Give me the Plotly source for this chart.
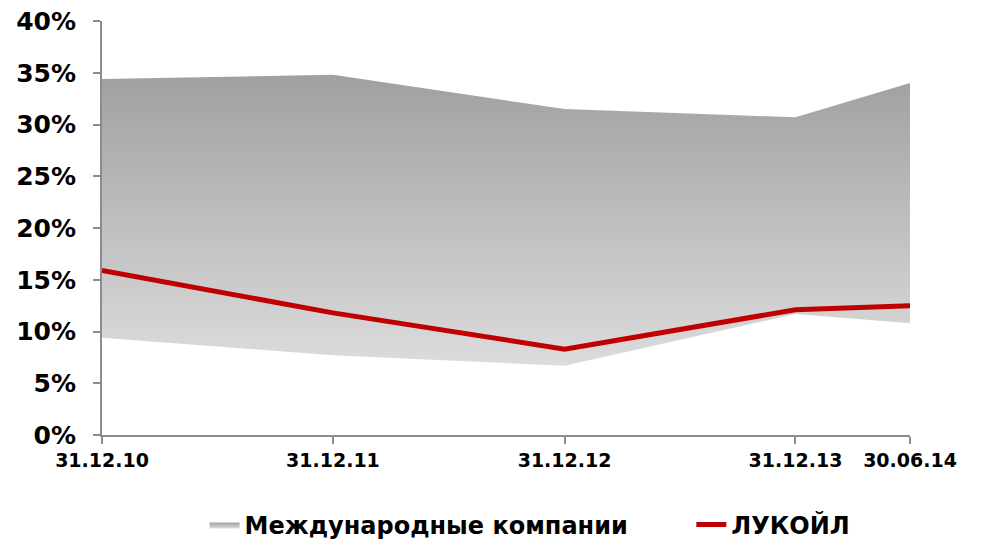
import plotly.graph_objects as go

dates = ["2010-12-31", "2011-12-31", "2012-12-31", "2013-12-31", "2014-06-30"]
tick_labels = ["31.12.10", "31.12.11", "31.12.12", "31.12.13", "30.06.14"]
intl_high = [0.344, 0.348, 0.315, 0.307, 0.340]
intl_low = [0.094, 0.077, 0.067, 0.117, 0.108]
lukoil = [0.159, 0.118, 0.083, 0.121, 0.125]

FONT = "DejaVu Sans"
PAD = "\u00a0" * 7

fig = go.Figure()
fig.add_trace(go.Scatter(x=dates, y=intl_low, mode="lines", line=dict(width=0),
                         showlegend=False, hoverinfo="skip"))
fig.add_trace(go.Scatter(x=dates, y=intl_high, mode="lines", line=dict(width=0),
                         fill="tonexty", name="Международные компании" + PAD,
                         fillgradient=dict(type="vertical",
                                           colorscale=[[0, "#dcdcdc"], [1, "#a0a0a0"]]),
                         fillcolor="#bdbdbd"))
fig.add_trace(go.Scatter(x=dates, y=lukoil, mode="lines", name="ЛУКОЙЛ",
                         line=dict(color="#c00000", width=5)))

fig.update_layout(
    width=982, height=540,
    margin=dict(l=94, r=80, t=13, b=113, autoexpand=False),
    paper_bgcolor="white", plot_bgcolor="white",
    font=dict(family=FONT, color="black"),
    legend=dict(orientation="h", x=0.127, xanchor="left", y=-0.217, yanchor="middle",
                font=dict(size=24, weight="bold", family=FONT), traceorder="normal",
                itemwidth=30),
    showlegend=True,
)
fig.update_xaxes(type="date", range=[dates[0], dates[-1]], tickvals=dates, ticktext=tick_labels,
                 showgrid=False, showline=True, linecolor="#8c8c8c", linewidth=2,
                 ticks="outside", ticklen=7, tickcolor="#8c8c8c", tickwidth=2,
                 tickfont=dict(size=19, weight="bold", family=FONT), zeroline=False,
                 automargin=False, ticklabeloverflow="allow")
fig.update_yaxes(range=[0, 0.4], tickvals=[i * 0.05 for i in range(9)],
                 ticktext=[f"{i*5}%" for i in range(9)],
                 showgrid=False, showline=True, linecolor="#8c8c8c", linewidth=2,
                 ticks="outside", ticklen=7, tickcolor="#8c8c8c", tickwidth=2,
                 tickfont=dict(size=25, weight="bold", family=FONT), zeroline=False,
                 ticklabelstandoff=12, automargin=False, ticklabeloverflow="allow")

fig.write_html("out.html")
